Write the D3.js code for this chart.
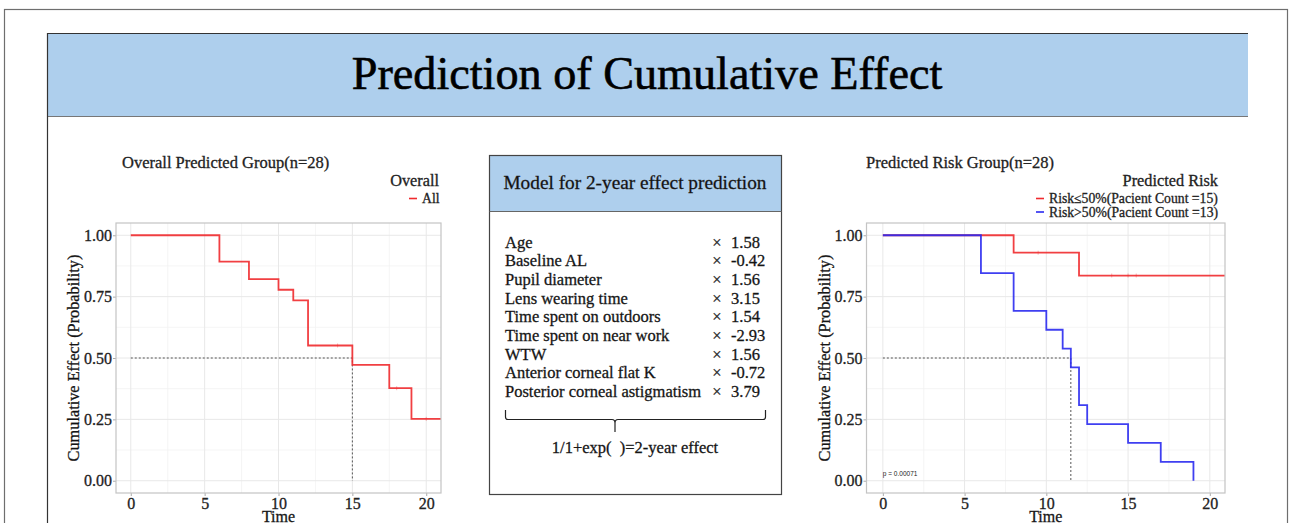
<!DOCTYPE html>
<meta charset="utf-8">
<script src="https://d3js.org/d3.v7.min.js"></script>
<style>
  body { margin: 0; background: #fff; }
  text { font-family: "Liberation Serif", "Times New Roman", serif; stroke: #222; stroke-width: 0.3px; }
  text.sans { stroke: none; }
</style>
<div id="chart"></div>
<script>

// ---- data ----
const pageTitle = "Prediction of Cumulative Effect";
const timeTicks = [0, 5, 10, 15, 20];
const probTicks = [0, 0.25, 0.5, 0.75, 1];

// overall curve (step after)
const overallTime = [0, 6, 8, 10, 11, 12, 15, 17.5, 19, 21];
const overallSurv = [1, 0.893, 0.821, 0.778, 0.735, 0.551, 0.472, 0.377, 0.252, 0.252];
const overallCensor = [14, 18, 20];
const overallMedian = 15;

// risk groups
const lowTime = [0, 8, 12, 21];
const lowSurv = [1, 0.929, 0.836, 0.836];
const lowCensor = [9.5, 14, 15, 15.5];
const highTime = [0, 6, 8, 10, 11, 11.5, 12, 12.5, 15, 17, 19];
const highSurv = [1, 0.846, 0.692, 0.615, 0.538, 0.462, 0.308, 0.231, 0.154, 0.077, 0];
const riskMedian = 11.5;
const riskLabels = ["Risk\u226450%(Pacient Count =15)", "Risk>50%(Pacient Count =13)"];
const pValue = "p = 0.00071";

// model box
const modelVars = ["Age", "Baseline AL", "Pupil diameter", "Lens wearing time",
  "Time spent on outdoors", "Time spent on near work", "WTW",
  "Anterior corneal flat K", "Posterior corneal astigmatism"];
const modelCoefs = ["1.58", "-0.42", "1.56", "3.15", "1.54", "-2.93", "1.56", "-0.72", "3.79"];

const red = "#f02a2e", blue = "#2a2af0";

const svg = d3.select("#chart").append("svg")
  .attr("width", 1290).attr("height", 523);

// outer frame and title band
svg.append("rect").attr("x", 4.5).attr("y", 9.5).attr("width", 1283).attr("height", 530)
  .attr("fill", "none").attr("stroke", "#6e6e6e").attr("stroke-width", 1.2);
svg.append("rect").attr("x", 47).attr("y", 33).attr("width", 1201).attr("height", 83)
  .attr("fill", "#aecfed");
svg.append("line").attr("x1", 47).attr("x2", 1248).attr("y1", 33.5).attr("y2", 33.5)
  .attr("stroke", "#333").attr("stroke-width", 1.2);
svg.append("line").attr("x1", 47).attr("x2", 1248).attr("y1", 116.5).attr("y2", 116.5)
  .attr("stroke", "#777").attr("stroke-width", 1);
svg.append("line").attr("x1", 47.5).attr("x2", 47.5).attr("y1", 33).attr("y2", 523)
  .attr("stroke", "#333").attr("stroke-width", 1.2);
svg.append("text").attr("x", 647).attr("y", 89).attr("text-anchor", "middle")
  .attr("font-size", 46.2).attr("fill", "#000").style("stroke", "#000").style("stroke-width", "0.6px")
  .text(pageTitle);

// helper to draw one KM panel
function panel(opts) {
  const x = d3.scaleLinear().domain(opts.xDomain).range([opts.left, opts.right]);
  const y = d3.scaleLinear().domain([-0.05, 1.05]).range([opts.bottom, opts.top]);
  const g = svg.append("g");

  // grid
  const minorX = d3.range(timeTicks[0] + 2.5, 25, 5).filter(v => x(v) < opts.right);
  const minorY = [0.125, 0.375, 0.625, 0.875];
  g.selectAll(".mx").data(minorX).join("line")
    .attr("x1", d => x(d)).attr("x2", d => x(d)).attr("y1", opts.top).attr("y2", opts.bottom)
    .attr("stroke", "#f3f3f3").attr("stroke-width", 0.8);
  g.selectAll(".my").data(minorY).join("line")
    .attr("x1", opts.left).attr("x2", opts.right).attr("y1", d => y(d)).attr("y2", d => y(d))
    .attr("stroke", "#f3f3f3").attr("stroke-width", 0.8);
  g.selectAll(".gx").data(timeTicks).join("line")
    .attr("x1", d => x(d)).attr("x2", d => x(d)).attr("y1", opts.top).attr("y2", opts.bottom)
    .attr("stroke", "#e8e8e8").attr("stroke-width", 1);
  g.selectAll(".gy").data(probTicks).join("line")
    .attr("x1", opts.left).attr("x2", opts.right).attr("y1", d => y(d)).attr("y2", d => y(d))
    .attr("stroke", "#e8e8e8").attr("stroke-width", 1);

  // axes
  const ax = g.append("g").attr("transform", `translate(0,${opts.bottom})`)
    .call(d3.axisBottom(x).tickValues(timeTicks).tickSize(3).tickPadding(2));
  const ay = g.append("g").attr("transform", `translate(${opts.left},0)`)
    .call(d3.axisLeft(y).tickValues(probTicks).tickFormat(d3.format(".2f")).tickSize(3).tickPadding(1));
  [ax, ay].forEach(a => {
    a.select(".domain").remove();
    a.selectAll(".tick line").attr("stroke", "#aaa");
    a.selectAll(".tick text").attr("font-size", 16).attr("fill", "#222")
      .style("font-family", '"Liberation Serif", serif');
  });

  // median lines
  g.append("path")
    .attr("d", `M${x(0)},${y(0.5)}H${x(opts.median)}V${y(0)}`)
    .attr("fill", "none").attr("stroke", "#555").attr("stroke-width", 1)
    .attr("stroke-dasharray", "2,2");

  // curves
  const clipId = "clip" + Math.round(opts.left);
  svg.append("clipPath").attr("id", clipId).append("rect")
    .attr("x", opts.left).attr("y", opts.top).attr("width", opts.right - opts.left)
    .attr("height", opts.bottom - opts.top);
  const line = d3.line().x(d => x(d[0])).y(d => y(d[1])).curve(d3.curveStepAfter);
  opts.curves.forEach(c => {
    const pts = c.time.map((t, i) => [t, c.surv[i]]);
    g.append("path").attr("d", line(pts)).attr("clip-path", `url(#${clipId})`)
      .attr("fill", "none").attr("stroke", c.color).attr("stroke-width", 1.8)
      .attr("stroke-opacity", 0.9);
    const at = t => c.surv[d3.bisectRight(c.time, t) - 1];
    g.selectAll(null).data(c.censor || []).join("line")
      .attr("x1", d => x(d)).attr("x2", d => x(d))
      .attr("y1", d => y(at(d)) - 2).attr("y2", d => y(at(d)) + 2)
      .attr("stroke", c.color).attr("stroke-width", 1).attr("stroke-opacity", 0.35);
  });

  // panel border
  g.append("rect").attr("x", opts.left).attr("y", opts.top)
    .attr("width", opts.right - opts.left).attr("height", opts.bottom - opts.top)
    .attr("fill", "none").attr("stroke", "#c4c4c4").attr("stroke-width", 1.2);

  // titles
  svg.append("text").attr("x", opts.titleX).attr("y", 168).attr("font-size", 16.5)
    .attr("fill", "#222").text(opts.title);
  svg.append("text").attr("x", (opts.left + opts.right) / 2).attr("y", 521.5)
    .attr("text-anchor", "middle").attr("font-size", 16).attr("fill", "#111").text("Time");
  svg.append("text")
    .attr("transform", `translate(${opts.left - 37},${(opts.top + opts.bottom) / 2}) rotate(-90)`)
    .attr("text-anchor", "middle").attr("font-size", 16.3).attr("fill", "#111")
    .text("Cumulative Effect (Probability)");

  // legend
  svg.append("text").attr("x", opts.legendRight).attr("y", 186).attr("text-anchor", "end")
    .attr("font-size", 16.3).attr("fill", "#222").text(opts.legendTitle);
  opts.legendItems.forEach((it, i) => {
    const ly = 198.5 + i * 13.5;
    svg.append("line").attr("x1", it.x0).attr("x2", it.x0 + 8).attr("y1", ly).attr("y2", ly)
      .attr("stroke", it.color).attr("stroke-width", 1.6);
    svg.append("text").attr("x", it.x0 + 13).attr("y", ly + 4.5).attr("font-size", 13.7)
      .attr("fill", "#222").text(it.label);
  });
  return {x, y};
}

// left panel
panel({
  left: 116, right: 441, top: 223, bottom: 493, xDomain: [-1, 21],
  median: overallMedian, title: "Overall Predicted Group(n=28)", titleX: 122,
  curves: [{time: overallTime, surv: overallSurv, censor: overallCensor, color: red}],
  legendRight: 439, legendTitle: "Overall",
  legendItems: [{x0: 409, color: red, label: "All"}]
});

// right panel
const right = panel({
  left: 866.5, right: 1225, top: 223, bottom: 493, xDomain: [-1, 20.93],
  median: riskMedian, title: "Predicted Risk Group(n=28)", titleX: 866,
  curves: [
    {time: lowTime, surv: lowSurv, censor: lowCensor, color: red},
    {time: highTime, surv: highSurv, color: blue}
  ],
  legendRight: 1218, legendTitle: "Predicted Risk",
  legendItems: [{x0: 1036, color: red, label: riskLabels[0]},
                {x0: 1036, color: blue, label: riskLabels[1]}]
});
svg.append("text").attr("class", "sans").attr("x", right.x(0)).attr("y", 476)
  .style("font-family", '"Liberation Sans", Arial, sans-serif')
  .attr("font-size", 6.5).attr("fill", "#222").text(pValue);

// model box
const box = svg.append("g");
box.append("rect").attr("x", 489.5).attr("y", 155.5).attr("width", 292).attr("height", 56)
  .attr("fill", "#aecfed");
box.append("rect").attr("x", 489.5).attr("y", 155.5).attr("width", 292).attr("height", 339)
  .attr("fill", "none").attr("stroke", "#444").attr("stroke-width", 1.2);
box.append("line").attr("x1", 489.5).attr("x2", 781.5).attr("y1", 211.5).attr("y2", 211.5)
  .attr("stroke", "#666").attr("stroke-width", 1);
box.append("text").attr("x", 635).attr("y", 189).attr("text-anchor", "middle")
  .attr("font-size", 19.3).attr("fill", "#111").text("Model for 2-year effect prediction");

const rowY = d3.scalePoint().domain(modelVars).range([247.5, 397]);
box.selectAll(".var").data(modelVars).join("text")
  .attr("x", 505).attr("y", d => rowY(d)).attr("font-size", 16.5).attr("fill", "#111").text(d => d);
box.selectAll(".times").data(modelVars).join("text")
  .attr("x", 717).attr("y", d => rowY(d)).attr("text-anchor", "middle")
  .attr("font-size", 16.5).attr("fill", "#222").text("\u00d7");
box.selectAll(".coef").data(modelCoefs).join("text")
  .attr("x", 731).attr("y", (d, i) => rowY(modelVars[i])).attr("font-size", 16.5)
  .attr("fill", "#111").text(d => d);

// brace
box.append("path")
  .attr("d", "M505.5,410 V417 Q505.5,419.5 508,419.5 H612 Q615,419.5 615,423 V432 M615,423 Q615,419.5 618,419.5 H763 Q765.5,419.5 765.5,417 V410")
  .attr("fill", "none").attr("stroke", "#222").attr("stroke-width", 1.2);
box.append("text").attr("x", 635).attr("y", 453).attr("text-anchor", "middle")
  .style("white-space", "pre").attr("font-size", 16.5).attr("fill", "#111")
  .text("1/1+exp(  )=2-year effect");

</script>
